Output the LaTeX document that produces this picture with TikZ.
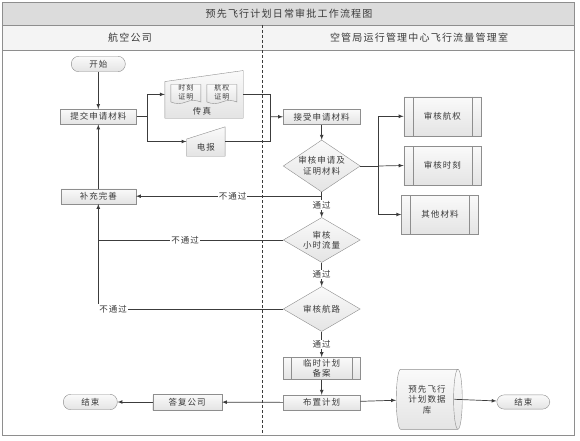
\documentclass[tikz,border=0pt]{standalone}
\usepackage{xcolor}
\usepackage{fontspec}
\setmainfont{Noto Sans CJK SC}[LetterSpace=12]
\usepackage{tikz}
\usetikzlibrary{shapes.geometric,shapes.symbols}

\definecolor{edgegray}{HTML}{8E8E8E}
\definecolor{linegray}{HTML}{3C3C3C}
\definecolor{textgray}{HTML}{3A3A3A}
\definecolor{bandgray}{HTML}{DCDCDC}
\definecolor{headgray}{HTML}{F4F4F4}
\definecolor{boxtop}{HTML}{FAFAFA}
\definecolor{boxbot}{HTML}{E4E4E4}

\tikzset{
	base/.style={draw=edgegray, top color=boxtop, bottom color=boxbot, inner sep=0pt, text=textgray, align=center, font=\fontsize{8.5}{10.5}\selectfont},
	task/.style={base, minimum width=77, minimum height=15},
	subtask/.style={base, minimum width=77, minimum height=39,
		path picture={\draw[edgegray] ([xshift=#1]path picture bounding box.north west) -- ([xshift=#1]path picture bounding box.south west)
			([xshift=-#1]path picture bounding box.north east) -- ([xshift=-#1]path picture bounding box.south east);}},
	subtask/.default=9,
	terminal/.style={base, rounded corners=7.5, minimum width=54, minimum height=15.5},
	check/.style={base, diamond, minimum width=77, minimum height=45},
	docpage/.style={base, tape, tape bend top=none, tape bend height=3, minimum width=30, minimum height=19, font=\fontsize{7}{8.5}\selectfont},
	store/.style={base, cylinder, aspect=0.3, minimum width=60, minimum height=70},
	lbl/.style={fill=white, inner sep=1, text=textgray, font=\fontsize{8.5}{10}\selectfont},
	line/.style={draw=linegray, line width=0.7},
	arr/.style={line, -latex}
}

\begin{document}
\begin{tikzpicture}[x=1pt,y=-1pt]
	\useasboundingbox (0,0) rectangle (580,441);

	% frame and lanes
	\filldraw[draw=edgegray, fill=bandgray] (2,2) rectangle (574,25);
	\filldraw[draw=edgegray, fill=headgray] (2,25) rectangle (574,50);
	\draw[edgegray] (2,2) rectangle (574,435);
	\draw[linegray, dash pattern=on 3pt off 2pt] (262,25) -- (262,435);
	\node[text=textgray, font=\fontsize{10}{12}\selectfont] (title) at (289,14) {预先飞行计划日常审批工作流程图};
	\node[text=textgray, font=\fontsize{10}{12}\selectfont] (laneA) at (130,38) {航空公司};
	\node[text=textgray, font=\fontsize{10}{12}\selectfont] (laneB) at (419,38) {空管局运行管理中心飞行流量管理室};

	% airline side
	\node[terminal] (start) at (98.3,64) {开始};
	\node[task, minimum width=76] (submit) at (98.3,116.7) {提交申请材料};
	\node[task, minimum width=75] (supp) at (98.3,196.2) {补充完善};
	\node[terminal] (end1) at (90.3,402) {结束};
	\node[task, minimum width=69, minimum height=16] (reply) at (187.2,402) {答复公司};

	\node[inner sep=0, minimum width=78, minimum height=47.3] (fax) at (204,94.4) {};
	\path[base] (fax.south west) -- ([yshift=-11]fax.north west) -- (fax.north east) -- (fax.south east) -- cycle;
	\node[docpage] (doc1) at (185.9,92.5) {时刻\\证明};
	\node[docpage] (doc2) at (221.9,92.5) {航权\\证明};
	\node[text=textgray, font=\fontsize{8.5}{10}\selectfont] at (202,111.5) {传真};

	\node[inner sep=0, minimum width=38.3, minimum height=29] (tele) at (205.8,141.5) {};
	\path[base] (tele.south west) -- ([yshift=-12.3]tele.north west) -- (tele.north east) -- (tele.south east) -- cycle;
	\node[text=textgray, font=\fontsize{8.5}{10}\selectfont] at (205.8,147.5) {电报};

	% control centre side
	\node[task] (recv) at (321.7,116.8) {接受申请材料};
	\node[check, minimum height=52, label={[align=center, text=textgray, font=\fontsize{8.5}{10.5}\selectfont]center:审核申请及\\证明材料}] (chk1) at (321.7,166) {};
	\node[check, label={[align=center, text=textgray, font=\fontsize{8.5}{10.5}\selectfont]center:审核\\小时流量}] (chk2) at (321.7,240) {};
	\node[check, minimum height=42] (chk3) at (321.7,309) {审核航路};
	\node[subtask=8.4, minimum height=22] (temp) at (321.7,368.3) {临时计划\\备案};
	\node[task] (plan) at (321.7,402.5) {布置计划};

	\node[subtask] (rights) at (442.3,116.3) {审核航权};
	\node[subtask] (slot) at (442.3,165.5) {审核时刻};
	\node[subtask] (other) at (440,214.5) {其他材料};

	\node[store, minimum width=60, minimum height=66] (db) at (427,399.3) {预先飞行\\计划数据\\库};
	\node[terminal, minimum width=53, minimum height=14.3] (end2) at (523.3,402) {结束};

	\coordinate (split) at (147.3,116.7);
	\coordinate (merge) at (270.3,116.7);
	\coordinate (fork) at (378.3,166);

	\draw[arr] (start) -- (submit);
	\draw[line] (submit.east) -- (split);
	\draw[arr] (split) |- (fax.west);
	\draw[arr] (split) |- (tele.west);
	\draw[line] (fax.east) -| (merge);
	\draw[line] (tele.east) -| (merge);
	\draw[arr] (merge) -- (recv.west);
	\draw[arr] (recv) -- (chk1);

	\draw[line] (chk1.east) -- (fork);
	\draw[arr] (fork) |- (rights.west);
	\draw[arr] (fork) -- (slot.west);
	\draw[arr] (fork) |- (other.west);

	\draw[arr] (chk1) -- node[lbl]{通过} (chk2);
	\draw[arr] (chk2) -- node[lbl]{通过} (chk3);
	\draw[arr] (chk3) -- node[lbl]{通过} (temp);
	\draw[arr] (temp) -- (plan);

	\draw[arr] (chk1.south |- supp.east) -- node[lbl, pos=.48]{不通过} (supp.east);
	\draw[line] (chk2.west) -- node[lbl, pos=.53]{不通过} (supp.south |- chk2.west);
	\draw[arr] (chk3.west) -- node[lbl, pos=.92]{不通过} (supp.south |- chk3.west) -- (supp.south);
	\draw[arr] (supp) -- (submit);

	\draw[arr] (plan) -- (reply);
	\draw[arr] (reply) -- (end1);
	\draw[arr] (plan) -- (db);
	\draw[arr] ([xshift=-8]db.east) -- (end2);
\end{tikzpicture}
\end{document}
